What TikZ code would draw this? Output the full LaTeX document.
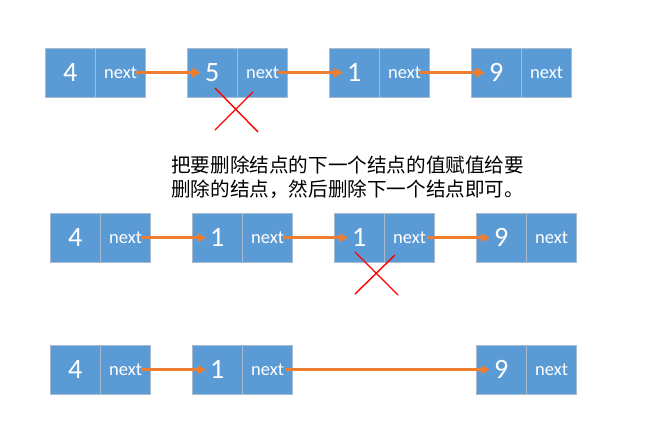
\documentclass[tikz,border=0pt]{standalone}
\usepackage{fontspec}
\setmainfont{Carlito}
\newfontfamily\cjkfont{Noto Sans CJK SC}
\usetikzlibrary{arrows.meta,positioning,calc}
\definecolor{cellblue}{HTML}{5B9BD5}
\definecolor{celledge}{HTML}{A9B9CE}
\definecolor{linkorange}{HTML}{ED7D31}
\tikzset{
  valcell/.style={draw=celledge, fill=cellblue, minimum width=50pt, minimum height=49pt,
    inner sep=0pt, text=white, font=\fontsize{28}{28}\selectfont},
  nextcell/.style={valcell, font=\fontsize{18.5}{18.5}\selectfont},
  link/.style={draw=linkorange, line width=2.5pt, -{Triangle[length=9pt,width=9pt]}},
  cross/.style={draw=red, line width=1.4pt}
}
\begin{document}
\begin{tikzpicture}[x=1pt,y=-1pt]
\useasboundingbox (0,0) rectangle (668,429);
% first list: 4 -> 5 -> 1 -> 9
\node[valcell, anchor=north west] (a1v) at (45,48) {4};
\node[nextcell, right=0pt of a1v] (a1n) {next};
\node[valcell, anchor=north west] (a2v) at (187,48) {5};
\node[nextcell, right=0pt of a2v] (a2n) {next};
\node[valcell, anchor=north west] (a3v) at (329,48) {1};
\node[nextcell, right=0pt of a3v] (a3n) {next};
\node[valcell, anchor=north west] (a4v) at (471,48) {9};
\node[nextcell, right=0pt of a4v] (a4n) {next};
\draw[link] ($(a1n.east)+(-10,0)$) -- ($(a2v.west)+(14,0)$);
\draw[link] ($(a2n.east)+(-10,0)$) -- ($(a3v.west)+(14,0)$);
\draw[link] ($(a3n.east)+(-10,0)$) -- ($(a4v.west)+(14,0)$);
\draw[cross] (215,88) -- (258,132) (253,92) -- (215,130);
% explanation
\node[anchor=north west, align=left, inner sep=0pt, font=\cjkfont\fontsize{19.6}{23.5}\selectfont] (note) at (171,156)
  {把要删除结点的下一个结点的值赋值给要\\删除的结点，然后删除下一个结点即可。};
% second list: 4 -> 1 -> 1 -> 9
\node[valcell, anchor=north west] (b1v) at (50,213) {4};
\node[nextcell, right=0pt of b1v] (b1n) {next};
\node[valcell, anchor=north west] (b2v) at (192,213) {1};
\node[nextcell, right=0pt of b2v] (b2n) {next};
\node[valcell, anchor=north west] (b3v) at (334,213) {1};
\node[nextcell, right=0pt of b3v] (b3n) {next};
\node[valcell, anchor=north west] (b4v) at (476,213) {9};
\node[nextcell, right=0pt of b4v] (b4n) {next};
\draw[link] ($(b1n.east)+(-10,0)$) -- ($(b2v.west)+(14,0)$);
\draw[link] ($(b2n.east)+(-10,0)$) -- ($(b3v.west)+(14,0)$);
\draw[link] ($(b3n.east)+(-8,0)$) -- ($(b4v.west)+(14,0)$);
\draw[cross] (355,252) -- (398,295) (395,255) -- (355,294);
% third list: 4 -> 1 -> 9
\node[valcell, anchor=north west] (c1v) at (50,345) {4};
\node[nextcell, right=0pt of c1v] (c1n) {next};
\node[valcell, anchor=north west] (c2v) at (192,345) {1};
\node[nextcell, right=0pt of c2v] (c2n) {next};
\node[valcell, anchor=north west] (c4v) at (476,345) {9};
\node[nextcell, right=0pt of c4v] (c4n) {next};
\draw[link] ($(c1n.east)+(-10,0)$) -- ($(c2v.west)+(14,0)$);
\draw[link] ($(c2n.east)+(-8,0)$) -- ($(c4v.west)+(14,0)$);
\end{tikzpicture}
\end{document}
